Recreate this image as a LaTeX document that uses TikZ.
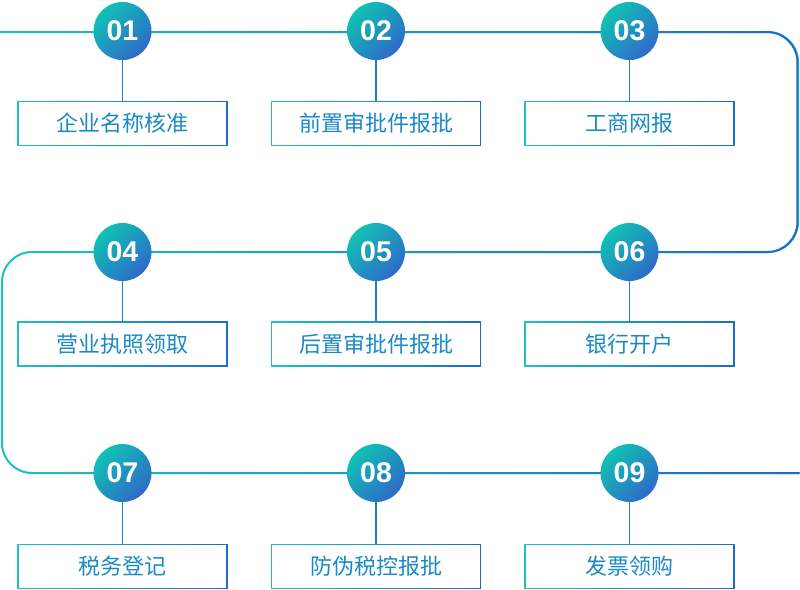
\documentclass[tikz,border=0pt]{standalone}
\usepackage{fontspec}
\setmainfont{Liberation Sans}
\newfontfamily\cjk{Noto Sans CJK SC}
\usetikzlibrary{fadings}
\definecolor{tealc}{HTML}{1CC3C0}
\definecolor{bluec}{HTML}{1F6CC6}
\definecolor{circA}{HTML}{10C2B4}
\definecolor{circB}{HTML}{2E6AC9}
\definecolor{txtc}{HTML}{1A8AC6}
\definecolor{connc}{HTML}{1D80C8}
\begin{document}
\begin{tikzpicture}[x=1pt,y=-1pt,
  numc/.style={circle, minimum size=58pt, inner sep=0pt, top color=circA, bottom color=circB, shading angle=45,
     font=\fontsize{28.5}{28.5}\bfseries\selectfont, text=white},
  stepbox/.style={rectangle, minimum width=209pt, minimum height=44pt, inner sep=0pt, draw=tealc, line width=1.1pt,
     fill=white, postaction={draw=bluec, line width=1.1pt, path fading=west},
     font=\cjk\fontsize{22}{22}\selectfont, text=txtc},
  snake/.style={line width=2pt, rounded corners=30pt},
  conn/.style={draw=connc, line width=1.3pt}]
\useasboundingbox (0,0) rectangle (800,589);
% snake line
\coordinate (start) at (0,32);
\coordinate (r1) at (798,32);
\coordinate (r2) at (798,252);
\coordinate (l2) at (2,252);
\coordinate (l3) at (2,473);
\coordinate (end) at (800,473);
\draw[snake, tealc] (start) -- (r1) -- (r2) -- (l2) -- (l3) -- (end);
\draw[snake, bluec, path fading=west] (start) -- (r1) -- (r2) -- (l2) -- (l3) -- (end);
% boxes
\node[stepbox] (b1) at (122.5,123.5) {企业名称核准};
\node[stepbox] (b2) at (376,123.5) {前置审批件报批};
\node[stepbox] (b3) at (629.5,123.5) {工商网报};
\node[stepbox] (b4) at (122.5,344) {营业执照领取};
\node[stepbox] (b5) at (376,344) {后置审批件报批};
\node[stepbox] (b6) at (629.5,344) {银行开户};
\node[stepbox] (b7) at (122.5,566.5) {税务登记};
\node[stepbox] (b8) at (376,566.5) {防伪税控报批};
\node[stepbox] (b9) at (629.5,566.5) {发票领购};
% circles
\node[numc] (c1) at (122.5,31) {01};
\node[numc] (c2) at (376,31) {02};
\node[numc] (c3) at (629.5,31) {03};
\node[numc] (c4) at (122.5,252) {04};
\node[numc] (c5) at (376,252) {05};
\node[numc] (c6) at (629.5,252) {06};
\node[numc] (c7) at (122.5,473) {07};
\node[numc] (c8) at (376,473) {08};
\node[numc] (c9) at (629.5,473) {09};
% connectors
\foreach \i in {1,...,9} { \draw[conn] (c\i) -- (b\i); }
\end{tikzpicture}
\end{document}
